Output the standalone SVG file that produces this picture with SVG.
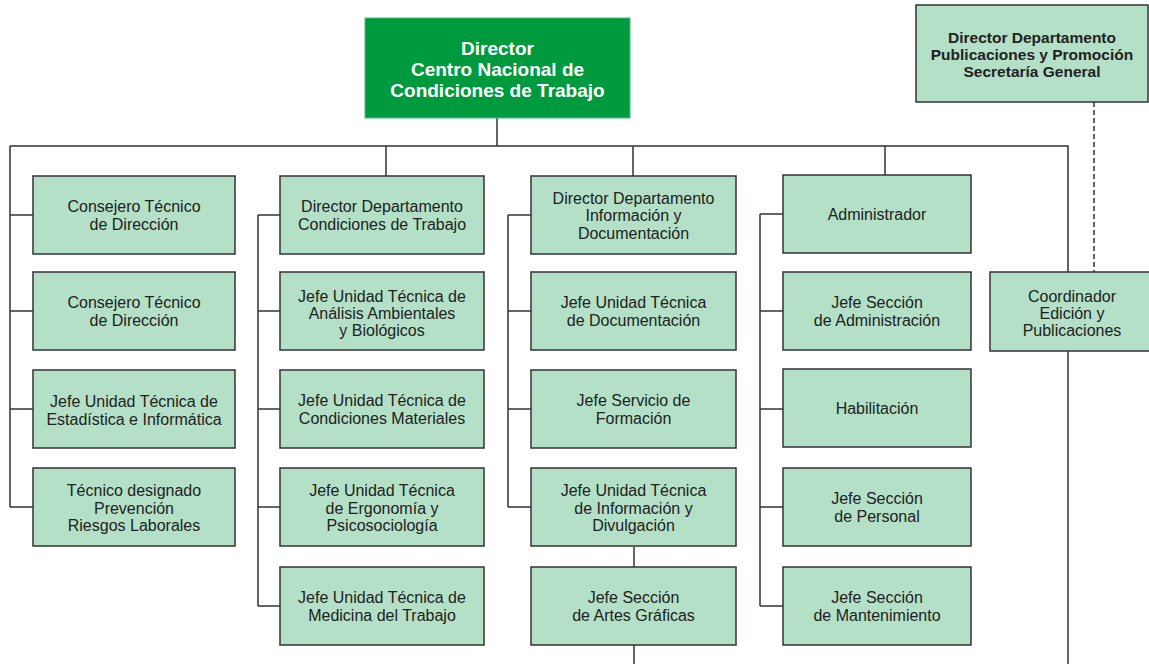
<svg xmlns="http://www.w3.org/2000/svg" width="1149" height="664" viewBox="0 0 1149 664">
<style>
.box{fill:#b3e0c6;stroke:#333;stroke-width:1.5}
.t{font-family:"Liberation Sans",Arial,sans-serif;font-size:16px;fill:#222;text-anchor:middle}
.tb{font-family:"Liberation Sans",Arial,sans-serif;font-size:15.5px;font-weight:bold;fill:#222;text-anchor:middle}
.tw{font-family:"Liberation Sans",Arial,sans-serif;font-size:19px;font-weight:bold;fill:#fff;text-anchor:middle}
.ln{fill:none;stroke:#333;stroke-width:1.5}
.dash{fill:none;stroke:#333;stroke-width:1.5;stroke-dasharray:5,3}
</style>
<rect width="1149" height="664" fill="#fff"/>
<g id="connectors">
<path class="ln" d="M497 118V146M10 146H1068V272M386 146V176M633 146V176M885 146V176"/>
<path class="ln" d="M10 146V507M10 215H33M10 311H33M10 409H33M10 507H33"/>
<path class="ln" d="M258 215V606M258 215H280M258 311H280M258 409H280M258 507H280M258 606H280"/>
<path class="ln" d="M508 215V507M508 215H531M508 311H531M508 409H531M508 507H531M634 547V567M634 645V664"/>
<path class="ln" d="M760 214V606M760 214H783M760 311H783M760 409H783M760 507H783M760 606H783"/>
<path class="ln" d="M1068 351V664"/>
<path class="dash" d="M1094 102V272"/>
</g>
<g id="director">
<rect x="365" y="18" width="265" height="100" fill="#009a3e" stroke="#4dba7a" stroke-width="1"/>
<text class="tw" x="497.5" y="55">Director</text>
<text class="tw" x="497.5" y="76">Centro Nacional de</text>
<text class="tw" x="497.5" y="97">Condiciones de Trabajo</text>
</g>
<g id="dir-publicaciones">
<rect class="box" x="916" y="5" width="232" height="97"/>
<text class="tb" x="1032" y="43">Director Departamento</text>
<text class="tb" x="1032" y="60">Publicaciones y Promoción</text>
<text class="tb" x="1032" y="77">Secretaría General</text>
</g>
<g id="coordinador">
<rect class="box" x="990" y="272" width="170" height="79"/>
<text class="t" x="1072" y="302">Coordinador</text>
<text class="t" x="1072" y="319">Edición y</text>
<text class="t" x="1072" y="336">Publicaciones</text>
</g>
<!-- Column 1 -->
<g id="c1r1"><rect class="box" x="33" y="176" width="202" height="78"/>
<text class="t" x="134" y="212">Consejero Técnico</text><text class="t" x="134" y="229.5">de Dirección</text></g>
<g id="c1r2"><rect class="box" x="33" y="272" width="202" height="78"/>
<text class="t" x="134" y="308">Consejero Técnico</text><text class="t" x="134" y="325.5">de Dirección</text></g>
<g id="c1r3"><rect class="box" x="33" y="370" width="202" height="78"/>
<text class="t" x="134" y="407">Jefe Unidad Técnica de</text><text class="t" x="134" y="425">Estadística e Informática</text></g>
<g id="c1r4"><rect class="box" x="33" y="468" width="202" height="78"/>
<text class="t" x="134" y="496">Técnico designado</text><text class="t" x="134" y="513.5">Prevención</text><text class="t" x="134" y="531">Riesgos Laborales</text></g>
<!-- Column 2 -->
<g id="c2r1"><rect class="box" x="280" y="176" width="204" height="78"/>
<text class="t" x="382" y="212">Director Departamento</text><text class="t" x="382" y="229.5">Condiciones de Trabajo</text></g>
<g id="c2r2"><rect class="box" x="280" y="272" width="204" height="78"/>
<text class="t" x="382" y="301.5">Jefe Unidad Técnica de</text><text class="t" x="382" y="319">Análisis Ambientales</text><text class="t" x="382" y="336">y Biológicos</text></g>
<g id="c2r3"><rect class="box" x="280" y="370" width="204" height="78"/>
<text class="t" x="382" y="406">Jefe Unidad Técnica de</text><text class="t" x="382" y="423.5">Condiciones Materiales</text></g>
<g id="c2r4"><rect class="box" x="280" y="468" width="204" height="78"/>
<text class="t" x="382" y="496">Jefe Unidad Técnica</text><text class="t" x="382" y="513.5">de Ergonomía y</text><text class="t" x="382" y="531">Psicosociología</text></g>
<g id="c2r5"><rect class="box" x="280" y="567" width="204" height="78"/>
<text class="t" x="382" y="603">Jefe Unidad Técnica de</text><text class="t" x="382" y="620.5">Medicina del Trabajo</text></g>
<!-- Column 3 -->
<g id="c3r1"><rect class="box" x="531" y="176" width="205" height="78"/>
<text class="t" x="633.5" y="203.5">Director Departamento</text><text class="t" x="633.5" y="221">Información y</text><text class="t" x="633.5" y="238.5">Documentación</text></g>
<g id="c3r2"><rect class="box" x="531" y="272" width="205" height="78"/>
<text class="t" x="633.5" y="308">Jefe Unidad Técnica</text><text class="t" x="633.5" y="325.5">de Documentación</text></g>
<g id="c3r3"><rect class="box" x="531" y="370" width="205" height="78"/>
<text class="t" x="633.5" y="406">Jefe Servicio de</text><text class="t" x="633.5" y="423.5">Formación</text></g>
<g id="c3r4"><rect class="box" x="531" y="468" width="205" height="78"/>
<text class="t" x="633.5" y="496">Jefe Unidad Técnica</text><text class="t" x="633.5" y="513.5">de Información y</text><text class="t" x="633.5" y="531">Divulgación</text></g>
<g id="c3r5"><rect class="box" x="531" y="567" width="205" height="78"/>
<text class="t" x="633.5" y="603">Jefe Sección</text><text class="t" x="633.5" y="620.5">de Artes Gráficas</text></g>
<!-- Column 4 -->
<g id="c4r1"><rect class="box" x="783" y="175" width="188" height="78"/>
<text class="t" x="877" y="219.5">Administrador</text></g>
<g id="c4r2"><rect class="box" x="783" y="272" width="188" height="78"/>
<text class="t" x="877" y="308">Jefe Sección</text><text class="t" x="877" y="325.5">de Administración</text></g>
<g id="c4r3"><rect class="box" x="783" y="369" width="188" height="78"/>
<text class="t" x="877" y="414">Habilitación</text></g>
<g id="c4r4"><rect class="box" x="783" y="468" width="188" height="78"/>
<text class="t" x="877" y="504">Jefe Sección</text><text class="t" x="877" y="521.5">de Personal</text></g>
<g id="c4r5"><rect class="box" x="783" y="567" width="188" height="78"/>
<text class="t" x="877" y="603">Jefe Sección</text><text class="t" x="877" y="620.5">de Mantenimiento</text></g>
</svg>
